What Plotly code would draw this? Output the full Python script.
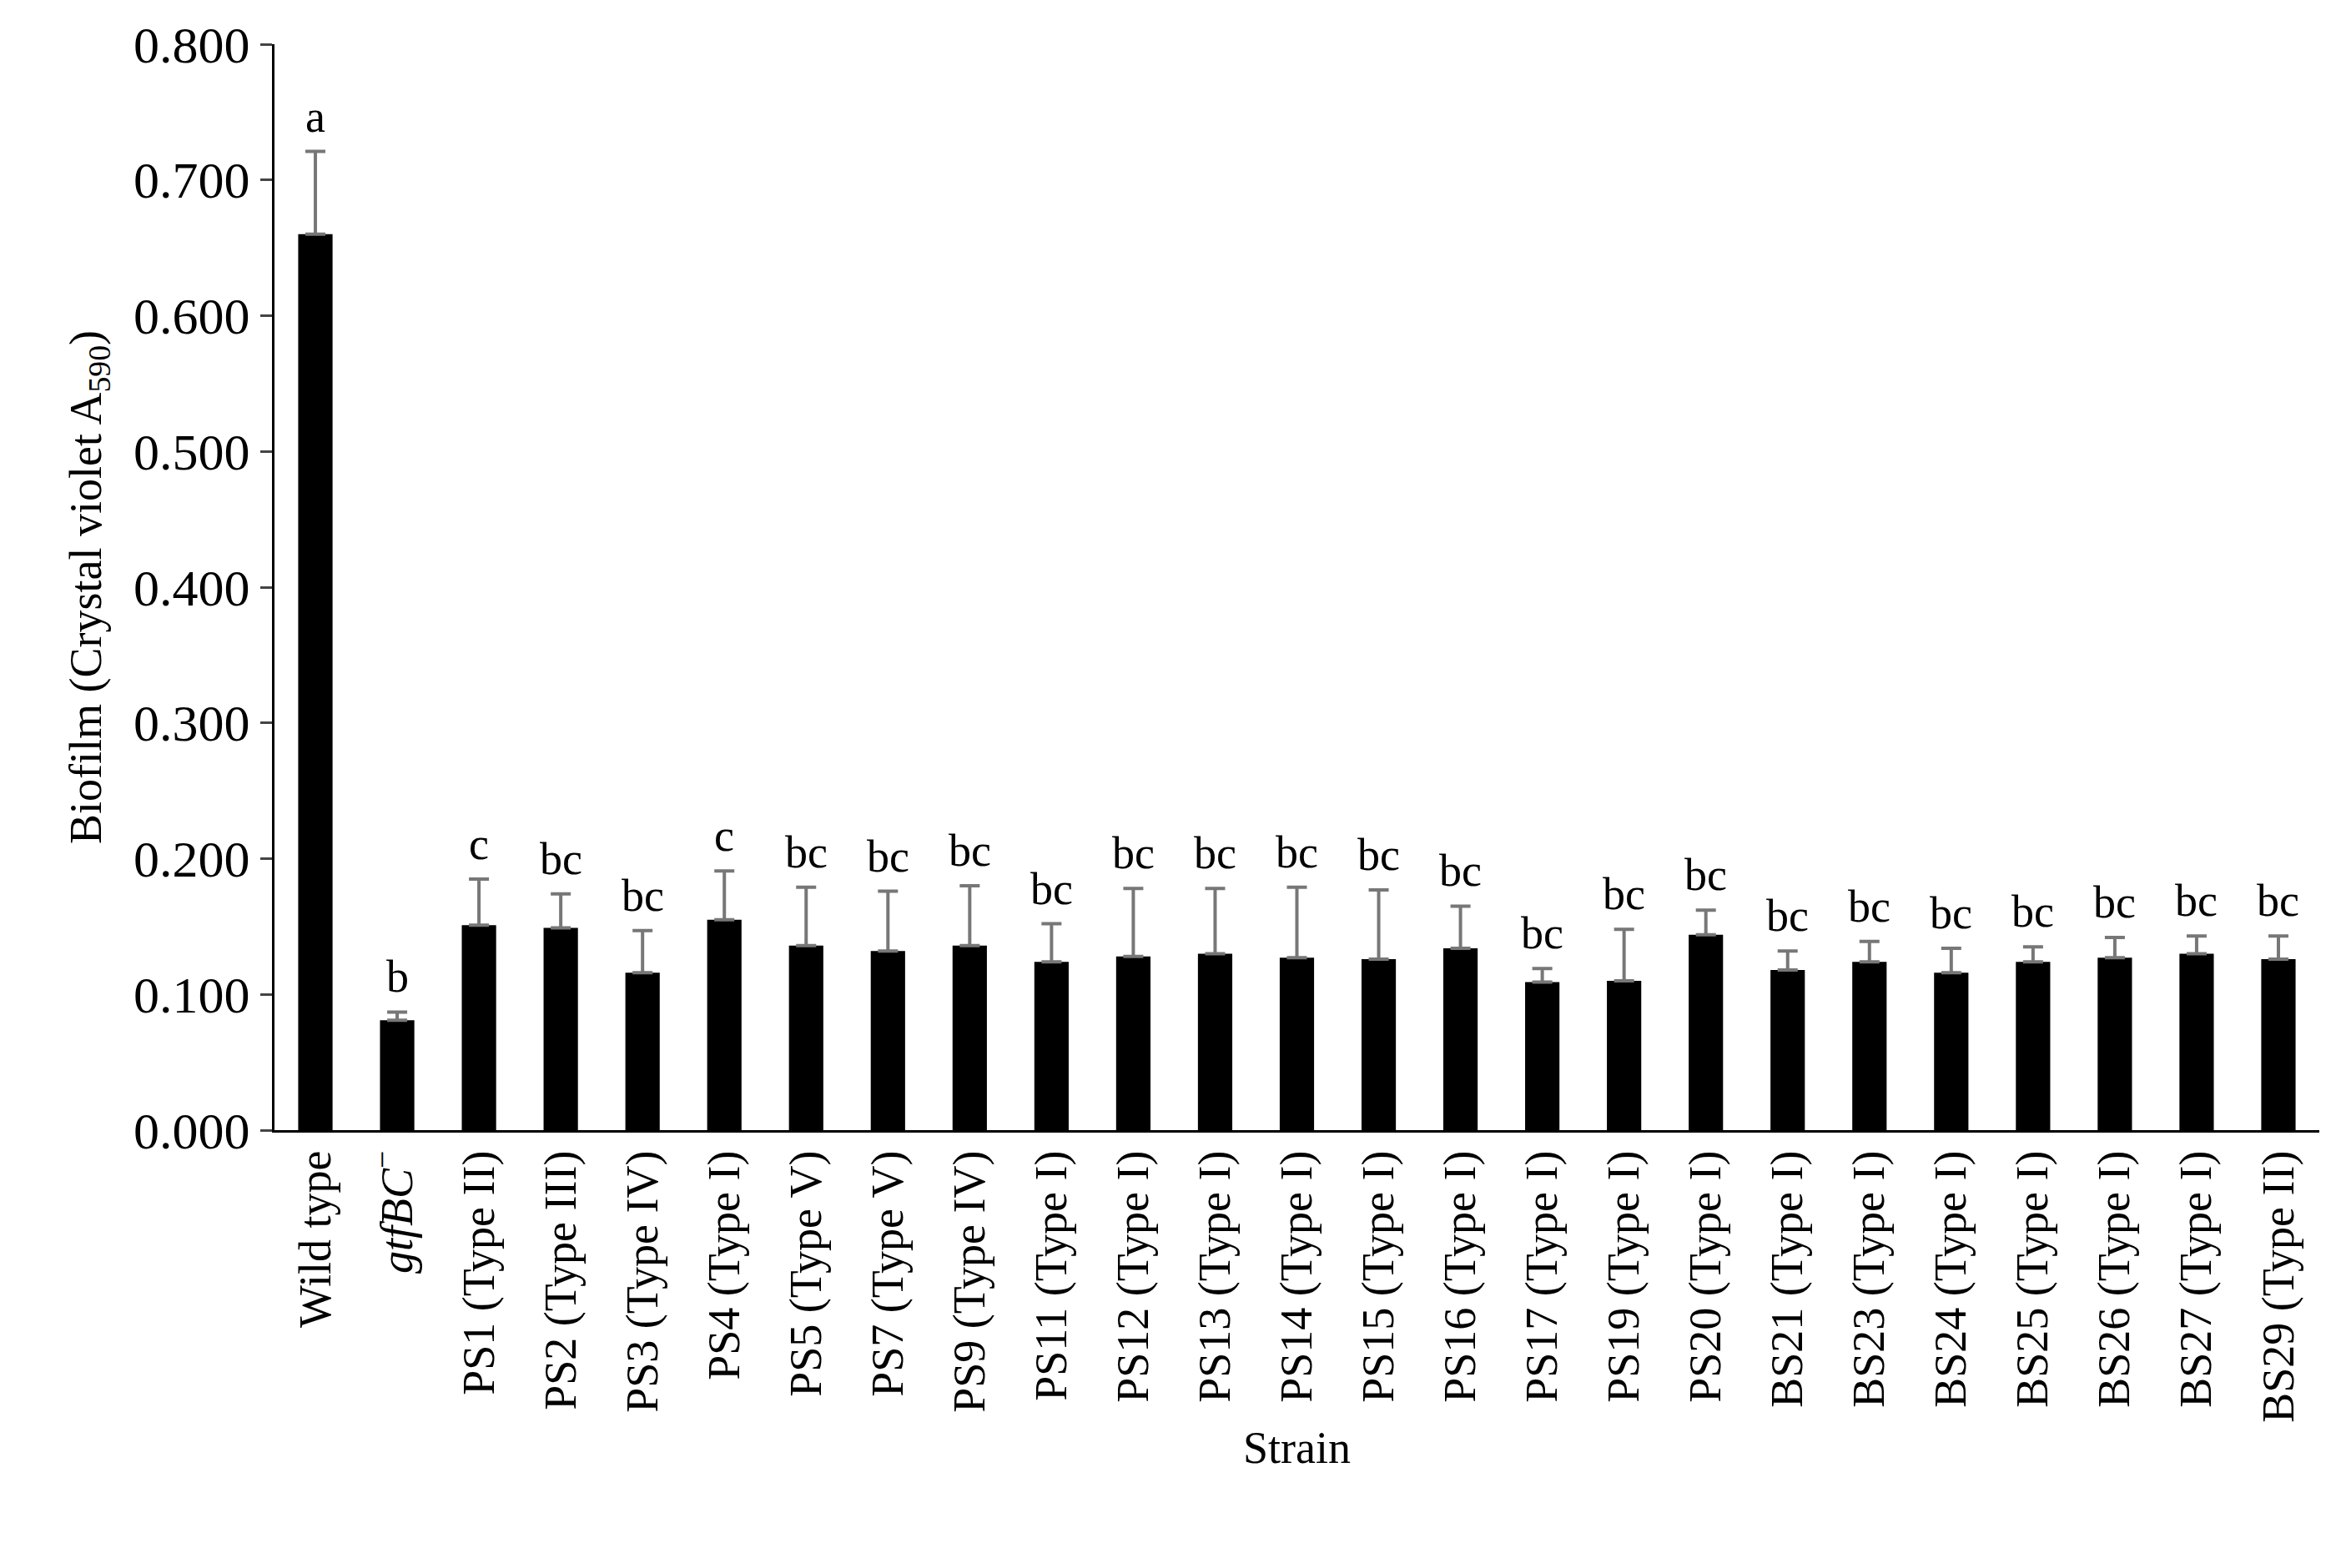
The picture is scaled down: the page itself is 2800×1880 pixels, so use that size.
import plotly.graph_objects as go

strains = ["Wild type", "<i>gtfBC</i><sup>−</sup>", "PS1 (Type II)", "PS2 (Type III)", "PS3 (Type IV)",
           "PS4 (Type I)", "PS5 (Type V)", "PS7 (Type V)", "PS9 (Type IV)", "PS11 (Type I)",
           "PS12 (Type I)", "PS13 (Type I)", "PS14 (Type I)", "PS15 (Type I)", "PS16 (Type I)",
           "PS17 (Type I)", "PS19 (Type I)", "PS20 (Type I)", "BS21 (Type I)", "BS23 (Type I)",
           "BS24 (Type I)", "BS25 (Type I)", "BS26 (Type I)", "BS27 (Type I)", "BS29 (Type II)"]
biofilm = [0.660, 0.081, 0.151, 0.149, 0.116, 0.155, 0.136, 0.132, 0.136, 0.124,
           0.128, 0.130, 0.127, 0.126, 0.134, 0.109, 0.110, 0.144, 0.118, 0.124,
           0.116, 0.124, 0.127, 0.130, 0.126]
err_top = [0.721, 0.087, 0.185, 0.174, 0.147, 0.191, 0.179, 0.176, 0.180, 0.152,
           0.178, 0.178, 0.179, 0.177, 0.165, 0.119, 0.148, 0.162, 0.132, 0.139,
           0.134, 0.135, 0.142, 0.143, 0.143]
letters = ["a", "b", "c", "bc", "bc", "c"] + ["bc"] * 19

errors = [t - v for t, v in zip(err_top, biofilm)]
xs = list(range(len(strains)))
FONT = "Liberation Serif"

fig = go.Figure()
fig.add_trace(go.Bar(
    x=xs, y=biofilm, width=0.42, marker=dict(color="black", line=dict(width=0)),
    error_y=dict(type="data", symmetric=False, array=errors, arrayminus=[0] * len(errors),
                 color="#777777", thickness=4, width=12),
))

for x, t, lab in zip(xs, err_top, letters):
    fig.add_annotation(x=x, y=t, text=lab, showarrow=False, yanchor="bottom", yshift=10,
                       font=dict(family=FONT, size=54, color="black"))

fig.update_layout(
    width=2800, height=1880, plot_bgcolor="white", paper_bgcolor="white",
    margin=dict(l=321, r=28, t=43, b=533), showlegend=False,
    font=dict(family=FONT, color="black"),
)
fig.update_xaxes(
    tickmode="array", tickvals=xs, ticktext=strains, tickangle=-90,
    tickfont=dict(family=FONT, size=54), range=[-0.5, len(strains) - 0.5],
    showline=True, linecolor="black", linewidth=3, ticks="", showgrid=False,
    title=dict(text="Strain", font=dict(family=FONT, size=54), standoff=12),
)
fig.update_yaxes(
    range=[0, 0.8], tickvals=[i / 10 for i in range(9)], tickformat=".3f",
    tickfont=dict(family=FONT, size=62), ticks="outside", ticklen=14, tickwidth=3,
    showline=True, linecolor="black", linewidth=3, showgrid=False, zeroline=False,
    title=dict(text="Biofilm (Crystal violet A<sub>590</sub>)", font=dict(family=FONT, size=54), standoff=22),
)

fig.write_html("out.html")
